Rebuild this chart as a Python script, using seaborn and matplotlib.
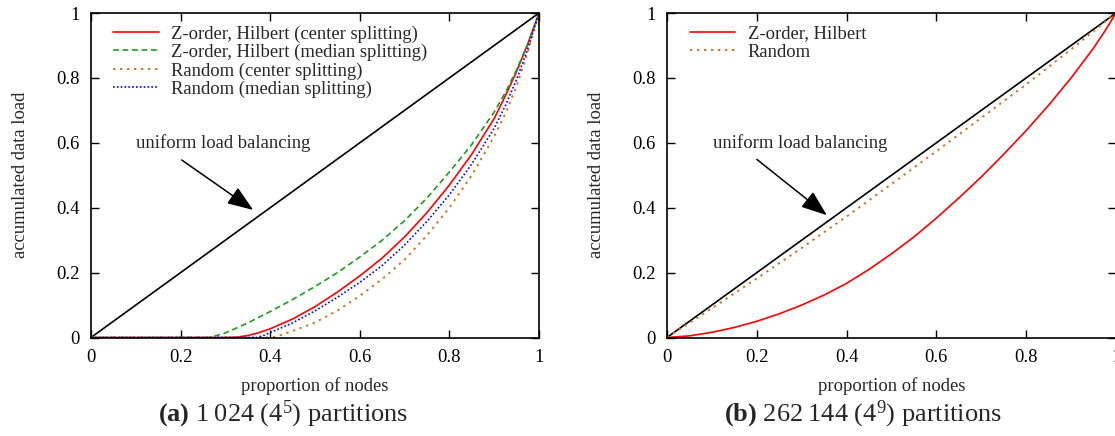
import matplotlib
matplotlib.use("Agg")
import matplotlib.pyplot as plt
import seaborn as sns

sns.set_theme(style="ticks")
plt.rcParams["font.family"] = ["Liberation Serif", "DejaVu Serif"]
plt.rcParams["mathtext.fontset"] = "custom"
plt.rcParams["mathtext.rm"] = "Liberation Serif"
plt.rcParams["mathtext.bf"] = "Liberation Serif:bold"
plt.rcParams["mathtext.it"] = "Liberation Serif:italic"

# ---- data: panel (a) 1024 partitions ----
uniform_x = [0, 1]
uniform_y = [0, 1]

zh_center_x = [0, 0.30, 0.325, 0.35, 0.375, 0.40, 0.45, 0.50, 0.55, 0.60, 0.65, 0.70, 0.75,
               0.80, 0.85, 0.90, 0.925, 0.95, 0.975, 1.0]
zh_center_y = [0, 0, 0.001, 0.006, 0.015, 0.027, 0.057, 0.095, 0.14, 0.19, 0.245, 0.31, 0.385,
               0.47, 0.565, 0.675, 0.745, 0.82, 0.905, 1.0]

zh_median_x = [0, 0.265, 0.30, 0.35, 0.40, 0.45, 0.50, 0.55, 0.60, 0.65, 0.70, 0.75, 0.80,
               0.85, 0.90, 0.925, 0.95, 0.975, 1.0]
zh_median_y = [0, 0, 0.014, 0.045, 0.08, 0.117, 0.157, 0.20, 0.248, 0.30, 0.36, 0.43, 0.51,
               0.595, 0.695, 0.755, 0.825, 0.905, 1.0]

rnd_center_x = [0, 0.405, 0.425, 0.45, 0.50, 0.55, 0.60, 0.65, 0.70, 0.75, 0.80, 0.85, 0.90,
                0.925, 0.95, 0.975, 1.0]
rnd_center_y = [0, 0, 0.008, 0.02, 0.046, 0.083, 0.128, 0.18, 0.24, 0.315, 0.40, 0.50, 0.62,
                0.69, 0.775, 0.88, 1.0]

rnd_median_x = [0, 0.37, 0.385, 0.40, 0.45, 0.50, 0.55, 0.60, 0.65, 0.70, 0.75, 0.80, 0.85,
                0.90, 0.925, 0.95, 0.975, 1.0]
rnd_median_y = [0, 0, 0.006, 0.015, 0.045, 0.082, 0.124, 0.17, 0.222, 0.285, 0.358, 0.44, 0.535,
                0.645, 0.715, 0.795, 0.89, 1.0]

# ---- data: panel (b) 262144 partitions ----
zh_big_x = [0, 0.05, 0.1, 0.15, 0.2, 0.25, 0.3, 0.35, 0.4, 0.45, 0.5, 0.55, 0.6, 0.65,
            0.7, 0.75, 0.8, 0.85, 0.9, 0.95, 0.975, 1.0]
zh_big_y = [0, 0.005, 0.016, 0.031, 0.05, 0.073, 0.10, 0.131, 0.167, 0.21, 0.258, 0.31, 0.368,
            0.43, 0.495, 0.565, 0.638, 0.716, 0.80, 0.892, 0.944, 1.0]

rnd_big_x = [0, 0.1, 0.2, 0.3, 0.4, 0.5, 0.6, 0.7, 0.8, 0.9, 1.0]
rnd_big_y = [0, 0.09, 0.182, 0.276, 0.373, 0.473, 0.574, 0.677, 0.78, 0.888, 1.0]

tick_vals = [0, 0.2, 0.4, 0.6, 0.8, 1]
tick_labels = ["0", "0.2", "0.4", "0.6", "0.8", "1"]

RED = "#ff0000"
GREEN = "#1f9a1f"
ORANGE = "#c8742a"
BLUE = "#0000ff"

FS = 13.4

fig = plt.figure(figsize=(11.15, 4.36), dpi=100)
ax1 = fig.add_axes([91 / 1115, 98.5 / 436, 448 / 1115, 324.5 / 436])
ax2 = fig.add_axes([667 / 1115, 98.5 / 436, 449 / 1115, 324.5 / 436])


def style_axis(ax):
    ax.set_xlim(0, 1)
    ax.set_ylim(0, 1)
    ax.set_xticks(tick_vals)
    ax.set_xticklabels(tick_labels)
    ax.set_yticks(tick_vals)
    ax.set_yticklabels(tick_labels)
    ax.tick_params(direction="in", length=6, width=1, top=True, right=True,
                   labelsize=FS, colors="black")
    ax.tick_params(axis="x", pad=8)
    ax.tick_params(axis="y", pad=8)
    for s in ax.spines.values():
        s.set_linewidth(1.2)
        s.set_color("black")
    ax.set_xlabel("proportion of nodes", fontsize=FS, labelpad=8)
    ax.set_ylabel("accumulated data load", fontsize=FS, labelpad=20)


def arrow(ax, text_xy, tail, head):
    ax.text(text_xy[0], text_xy[1], "uniform load balancing", fontsize=FS,
            ha="left", va="center")
    ax.annotate("", xy=head, xytext=tail,
                arrowprops=dict(arrowstyle="-|>,head_length=0.8,head_width=0.3",
                                color="black", lw=1.1, shrinkA=0, shrinkB=0,
                                mutation_scale=20))


DASH = (0, (3.5, 2.2))
DOT_WIDE = (0, (1.2, 2.4))
DOT_TIGHT = (0, (1, 1.3))

# panel (a)
sns.lineplot(x=uniform_x, y=uniform_y, ax=ax1, color="black", lw=1.2, sort=False)
sns.lineplot(x=zh_center_x, y=zh_center_y, ax=ax1, color=RED, lw=1.2, sort=False,
             label="Z-order, Hilbert (center splitting)")
sns.lineplot(x=zh_median_x, y=zh_median_y, ax=ax1, color=GREEN, lw=1.2, sort=False,
             linestyle=DASH, label="Z-order, Hilbert (median splitting)")
sns.lineplot(x=rnd_center_x, y=rnd_center_y, ax=ax1, color=ORANGE, lw=1.4, sort=False,
             linestyle=DOT_WIDE, label="Random (center splitting)")
sns.lineplot(x=rnd_median_x, y=rnd_median_y, ax=ax1, color=BLUE, lw=1.2, sort=False,
             linestyle=DOT_TIGHT, label="Random (median splitting)")
style_axis(ax1)
arrow(ax1, (0.1, 0.6), (0.2025, 0.547), (0.362, 0.393))
ax1.legend(loc="upper left", bbox_to_anchor=(0.049, 0.962), frameon=False,
           fontsize=FS, handlelength=2.45, handletextpad=0.65, labelspacing=0.06,
           borderpad=0, borderaxespad=0)

# panel (b)
sns.lineplot(x=uniform_x, y=uniform_y, ax=ax2, color="black", lw=1.2, sort=False)
sns.lineplot(x=zh_big_x, y=zh_big_y, ax=ax2, color=RED, lw=1.2, sort=False,
             label="Z-order, Hilbert")
sns.lineplot(x=rnd_big_x, y=rnd_big_y, ax=ax2, color=ORANGE, lw=1.4, sort=False,
             linestyle=DOT_WIDE, label="Random")
style_axis(ax2)
arrow(ax2, (0.103, 0.6), (0.2, 0.549), (0.356, 0.377))
ax2.legend(loc="upper left", bbox_to_anchor=(0.051, 0.962), frameon=False,
           fontsize=FS, handlelength=2.45, handletextpad=0.65, labelspacing=0.06,
           borderpad=0, borderaxespad=0)

# captions
fig.text(283 / 1115, 1 - 414 / 436, "$\\mathbf{(a)}$ 1\u2009024 (4$^{5}$) partitions",
         fontsize=19, ha="center", va="center")
fig.text(863 / 1115, 1 - 414 / 436, "$\\mathbf{(b)}$ 262\u2009144 (4$^{9}$) partitions",
         fontsize=19, ha="center", va="center")

fig.savefig("out.png", dpi=100, facecolor="white")
